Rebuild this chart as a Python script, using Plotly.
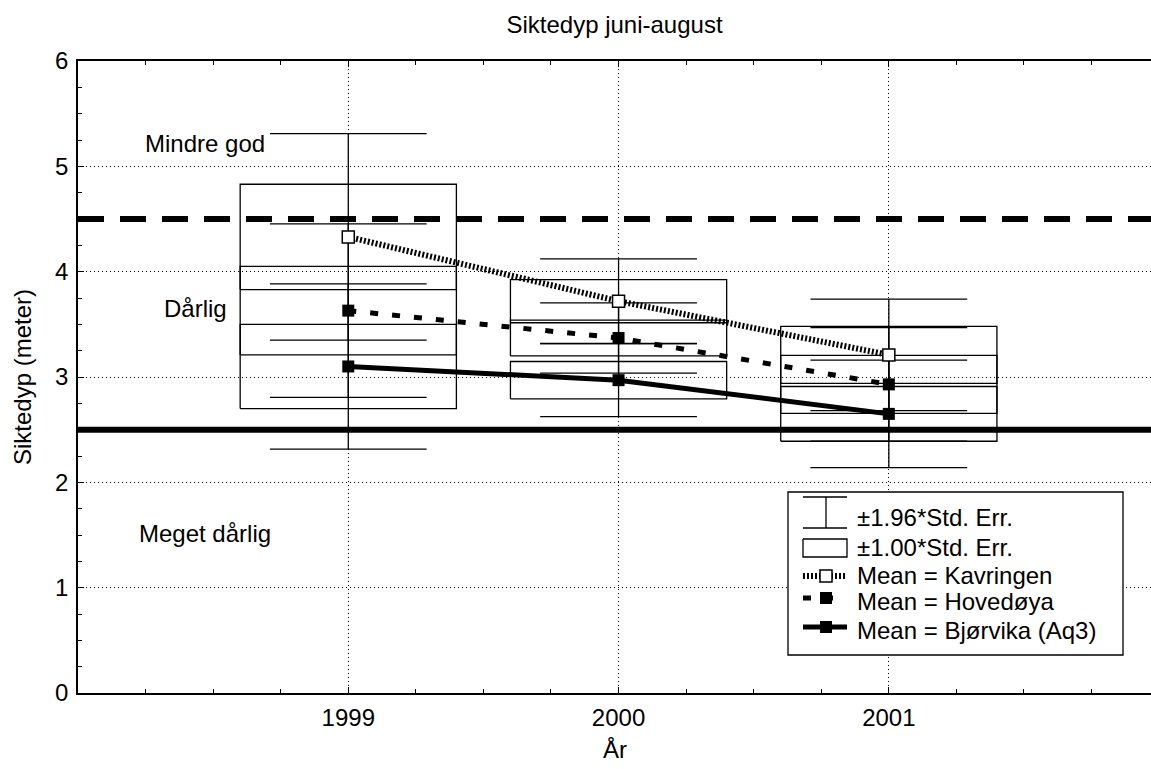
import plotly.graph_objects as go

# ---------------- data ----------------
years = [1999, 2000, 2001]
kav_mean = [4.33, 3.72, 3.21]
kav_se = [0.50, 0.205, 0.27]
hov_mean = [3.63, 3.37, 2.93]
hov_se = [0.42, 0.17, 0.275]
bjo_mean = [3.10, 2.97, 2.65]
bjo_se = [0.40, 0.177, 0.26]
whisker_factor = 1.96
limit_good = 4.5
limit_bad = 2.5
class_labels = ["Mindre god", "Dårlig", "Meget dårlig"]
class_label_x = [1998.24, 1998.31, 1998.22]
class_label_y = [5.22, 3.65, 1.51]
x_ticks = [1999, 2000, 2001]
y_ticks = [0, 1, 2, 3, 4, 5, 6]
legend_labels = ["±1.96*Std. Err.", "±1.00*Std. Err.", "Mean = Kavringen",
                 "Mean = Hovedøya", "Mean = Bjørvika (Aq3)"]

# ---------------- layout geometry ----------------
W, H = 1151, 769
L, R, T, B = 78, 0, 61, 76
XR = [1998.0, 2001.97]
YR = [0, 6]
BOX_HW = 0.40
CAP_HW = 0.29
FONT = "Liberation Sans, Arial, Helvetica, sans-serif"


def px2x(px):
    return XR[0] + (px - L) / (W - L - R) * (XR[1] - XR[0])


def py2y(py):
    return YR[1] - (py - T) / (H - T - B) * (YR[1] - YR[0])


fig = go.Figure()

# boxes and whiskers
ex, ey = [], []
for means, ses in [(kav_mean, kav_se), (hov_mean, hov_se), (bjo_mean, bjo_se)]:
    for yr, m, s in zip(years, means, ses):
        lo, hi = m - s, m + s
        ex += [yr - BOX_HW, yr + BOX_HW, yr + BOX_HW, yr - BOX_HW, yr - BOX_HW, None]
        ey += [lo, lo, hi, hi, lo, None]
        wlo, whi = m - whisker_factor * s, m + whisker_factor * s
        ex += [yr - CAP_HW, yr + CAP_HW, None, yr - CAP_HW, yr + CAP_HW, None, yr, yr, None]
        ey += [wlo, wlo, None, whi, whi, None, wlo, whi, None]
fig.add_trace(go.Scatter(x=ex, y=ey, mode="lines", line=dict(color="black", width=1.3),
                         hoverinfo="skip", showlegend=False))

# mean lines
series = [
    (kav_mean, "2px,2px", 6, dict(symbol="square", size=12, color="white",
                                  line=dict(color="black", width=1.5))),
    (hov_mean, "8px,14px", 5, dict(symbol="square", size=12, color="black")),
    (bjo_mean, "solid", 5, dict(symbol="square", size=12, color="black")),
]
names = ["Kavringen", "Hovedøya", "Bjørvika (Aq3)"]
for (means, dash, lw, mk), nm in zip(series, names):
    fig.add_trace(go.Scatter(x=years, y=means, mode="lines+markers", name=nm,
                             line=dict(color="black", width=lw, dash=dash),
                             marker=mk, showlegend=False))

shapes = [
    dict(type="line", xref="paper", x0=0, x1=1, yref="y", y0=limit_bad, y1=limit_bad,
         line=dict(color="black", width=6), layer="between"),
    dict(type="line", xref="paper", x0=0, x1=1, yref="y", y0=limit_good, y1=limit_good,
         line=dict(color="black", width=6, dash="26px,16px"), layer="between"),
    # legend frame
    dict(type="rect", xref="x", yref="y", x0=px2x(788), x1=px2x(1123),
         y0=py2y(492), y1=py2y(655), fillcolor="white",
         line=dict(color="black", width=1.3), layer="between"),
]

# legend symbols
sx0, sx1, sxc = px2x(803), px2x(847), px2x(826)
fig.add_trace(go.Scatter(
    x=[sx0, sx1, None, sx0, sx1, None, sxc, sxc],
    y=[py2y(497), py2y(497), None, py2y(528), py2y(528), None, py2y(497), py2y(528)],
    mode="lines", line=dict(color="black", width=1.3), hoverinfo="skip", showlegend=False))
fig.add_trace(go.Scatter(
    x=[sx0, sx1, sx1, sx0, sx0],
    y=[py2y(539), py2y(539), py2y(557), py2y(557), py2y(539)],
    mode="lines", line=dict(color="black", width=1.3), hoverinfo="skip", showlegend=False))
leg_sym_y = [576, 598, 627]
for (means, dash, lw, mk), py in zip(series, leg_sym_y):
    fig.add_trace(go.Scatter(x=[sx0, sxc, sx1], y=[py2y(py)] * 3, mode="lines",
                             line=dict(color="black", width=lw, dash=dash),
                             hoverinfo="skip", showlegend=False))
    fig.add_trace(go.Scatter(x=[sxc], y=[py2y(py)], mode="markers", marker=mk,
                             hoverinfo="skip", showlegend=False))

annotations = []
for txt, xx, yy in zip(class_labels, class_label_x, class_label_y):
    annotations.append(dict(text=txt, x=xx, y=yy, xref="x", yref="y", xanchor="left",
                            yanchor="middle", showarrow=False,
                            font=dict(size=24, family=FONT, color="black")))
leg_text_y = [517, 547, 575, 601, 630]
for txt, py in zip(legend_labels, leg_text_y):
    annotations.append(dict(text=txt, x=px2x(855), y=py2y(py), xref="x", yref="y",
                            xanchor="left", yanchor="middle", showarrow=False,
                            font=dict(size=24, family=FONT, color="black")))
annotations.append(dict(text="År", xref="paper", yref="paper", x=0.5,
                        y=-(749 - (H - B)) / (H - T - B), xanchor="center", yanchor="middle",
                        showarrow=False, font=dict(size=24, family=FONT, color="black")))
annotations.append(dict(text="Siktedyp (meter)", xref="paper", yref="paper",
                        x=(22 - L) / (W - L - R), y=0.5, xanchor="center", yanchor="middle",
                        textangle=-90, showarrow=False,
                        font=dict(size=24, family=FONT, color="black")))

fig.update_layout(
    width=W, height=H,
    margin=dict(l=L, r=R, t=T, b=B),
    paper_bgcolor="white", plot_bgcolor="white",
    font=dict(family=FONT, size=24, color="black"),
    title=dict(text="Siktedyp juni-august", x=0.5 * (L + W) / W, xanchor="center",
               y=1 - 25 / H, yanchor="middle", yref="container",
               font=dict(size=24, family=FONT, color="black")),
    shapes=shapes,
    annotations=annotations,
    xaxis=dict(range=XR, tickmode="array", tickvals=x_ticks,
               ticktext=[str(v) for v in x_ticks],
               showgrid=True, gridcolor="black", gridwidth=1, griddash="1px,3px",
               zeroline=False, showline=True, linecolor="black", linewidth=1.5,
               mirror="ticks", ticks="inside", ticklen=6, tickcolor="black",
               ticklabelstandoff=2,
               minor=dict(dtick=0.25, tick0=1998, ticks="inside", ticklen=4,
                          tickcolor="black", showgrid=False)),
    yaxis=dict(range=YR, tickmode="array", tickvals=y_ticks,
               showgrid=True, gridcolor="black", gridwidth=1, griddash="1px,3px",
               zeroline=False, showline=True, linecolor="black", linewidth=1.5,
               ticks="inside", ticklen=6, tickcolor="black", ticklabelstandoff=3,
               minor=dict(dtick=0.25, tick0=0, ticks="inside", ticklen=4,
                          tickcolor="black", showgrid=False)),
)

fig.write_html("out.html",
               config={"displayModeBar": False},
               post_script="document.body.style.margin='0px';"
                           "document.body.style.overflow='hidden';")
